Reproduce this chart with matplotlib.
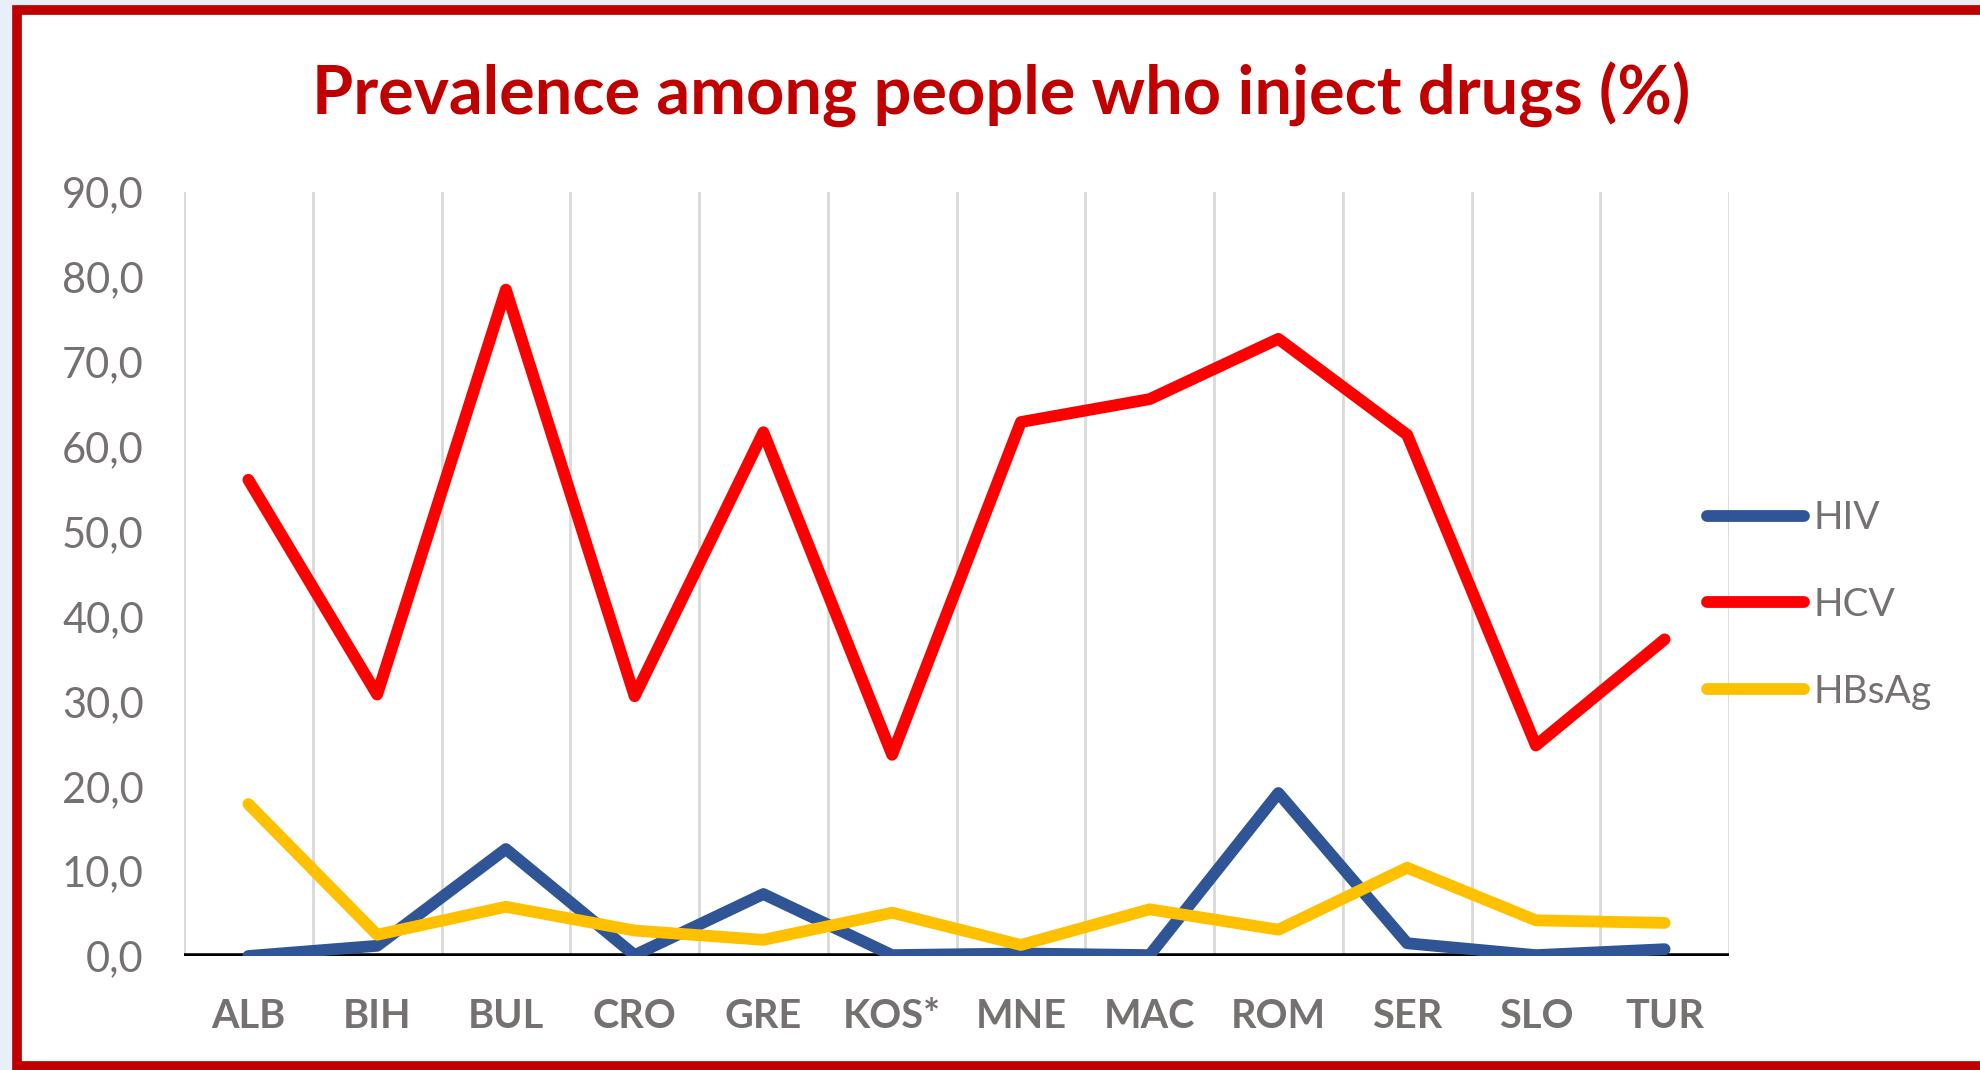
import matplotlib.pyplot as plt
import matplotlib.patches as patches
import numpy as np

countries = ['ALB', 'BIH', 'BUL', 'CRO', 'GRE', 'KOS*', 'MNE', 'MAC', 'ROM', 'SER', 'SLO', 'TUR']
hiv = [0.0, 1.2, 12.6, 0.1, 7.3, 0.1, 0.3, 0.1, 19.2, 1.5, 0.1, 0.8]
hcv = [56.1, 30.8, 78.5, 30.6, 61.7, 23.7, 62.9, 65.6, 72.7, 61.4, 24.8, 37.3]
hbsag = [17.9, 2.5, 5.8, 3.0, 1.9, 5.1, 1.3, 5.5, 3.1, 10.4, 4.2, 3.9]
yticks = np.arange(0, 91, 10)

W, H = 1980, 1070
fig = plt.figure(figsize=(W / 100, H / 100), dpi=100, facecolor='#E8EFF8')

# white panel with red frame (right edge runs off the picture)
frame = patches.Rectangle((17 / W, 1 - 1066 / H), 2.0, (1066 - 10) / H,
                          transform=fig.transFigure, facecolor='white',
                          edgecolor='#C00000', linewidth=7, zorder=-10)
fig.patches.append(frame)

ax = fig.add_axes([184 / W, 1 - 956 / H, (1729 - 184) / W, (956 - 192) / H])
ax.set_facecolor('none')

x = np.arange(len(countries))
lw = 8.5
ax.plot(x, hiv, color='#2F5597', lw=lw, solid_capstyle='round', solid_joinstyle='round', label='HIV', zorder=3)
ax.plot(x, hcv, color='#FF0000', lw=lw, solid_capstyle='round', solid_joinstyle='round', label='HCV', zorder=3)
ax.plot(x, hbsag, color='#FFC000', lw=lw, solid_capstyle='round', solid_joinstyle='round', label='HBsAg', zorder=3)

ax.set_xlim(-0.5, len(countries) - 0.5)
ax.set_ylim(0, 90)

# vertical grid between categories
for b in np.arange(-0.5, len(countries), 1.0):
    ax.axvline(b, color='#D9D9D9', lw=2, zorder=1)
ax.axhline(0, color='black', lw=4, zorder=2)

for s in ax.spines.values():
    s.set_visible(False)

ax.set_yticks(yticks)
ax.set_yticklabels([f'{v:.1f}'.replace('.', ',') for v in yticks],
                   fontsize=30, color='#767171', family='Lato')
ax.set_xticks(x)
ax.set_xticklabels(countries, fontsize=28.5, color='#767171', family='Lato', fontweight='bold')
ax.tick_params(axis='both', length=0)
ax.tick_params(axis='y', pad=29)
ax.tick_params(axis='x', pad=30)

fig.text(1001 / W, 1 - 95 / H, 'Prevalence among people who inject drugs (%)',
         ha='center', va='center', fontsize=48, fontweight='bold',
         color='#C00000', family='Lato')

leg = ax.legend(loc='center left', bbox_to_anchor=(1691 / W, 1 - 605 / H),
                bbox_transform=fig.transFigure, frameon=False,
                prop={'family': 'Lato', 'size': 28}, handlelength=2.5,
                handletextpad=0.25, labelspacing=1.3, borderaxespad=0)
for t in leg.get_texts():
    t.set_color('#767171')

fig.savefig('out.png', dpi=100, facecolor=fig.get_facecolor())
